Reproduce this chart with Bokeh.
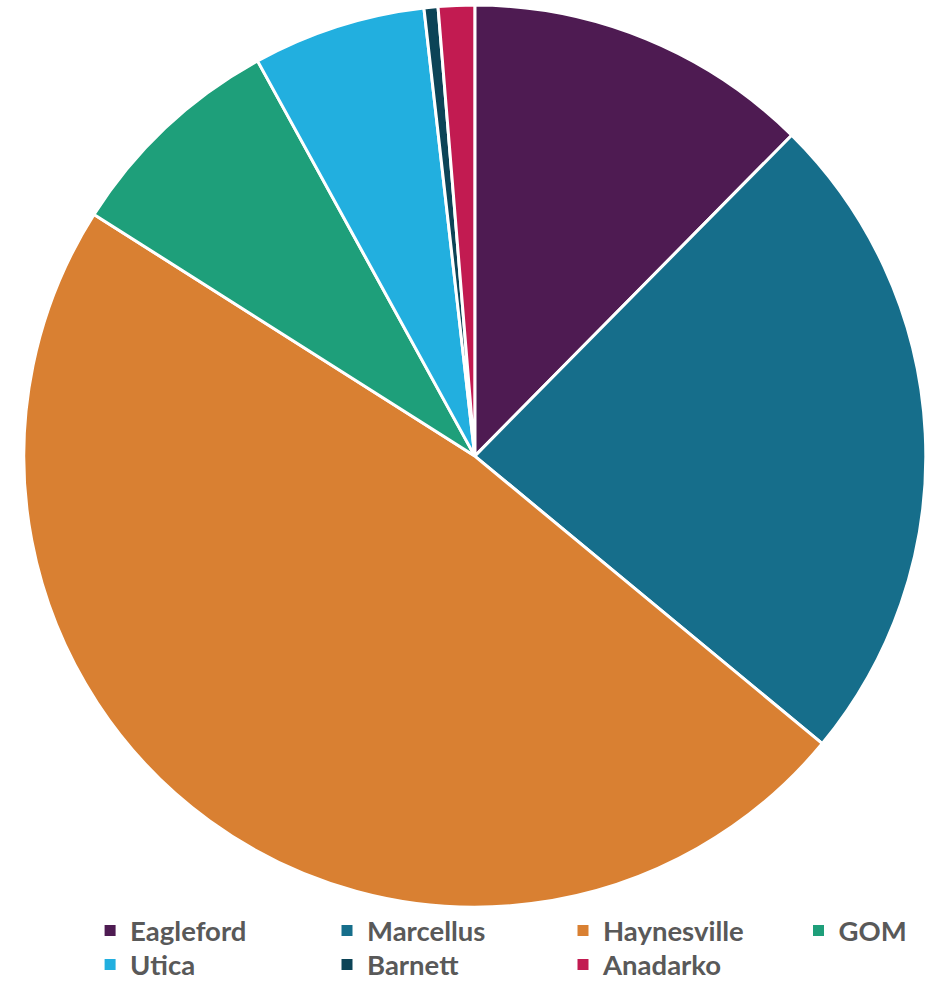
import numpy as np
from bokeh.plotting import figure
from bokeh.models import Range1d, ColumnDataSource
from bokeh.core.properties import value
from bokeh.embed import file_html
from bokeh.resources import INLINE

# ---- data ----
categories = ["Eagleford", "Marcellus", "Haynesville", "GOM", "Utica", "Barnett", "Anadarko"]
shares = [12.4, 23.6, 48.0, 8.0, 6.2, 0.5, 1.3]
colors = ["#4E1B52", "#166E8B", "#D98032", "#1E9F7A", "#22AFDF", "#0C4457", "#C21B51"]

# ---- layout ----
W, H = 931, 982
CX, CY, R = 474.3, 455.6, 451.0          # pie centre / radius in figure pixels (y down)
LEG_COL_X = [109.6, 346.5, 582.5, 818.0]  # marker centres
LEG_TEXT_DX = 20
LEG_ROW_Y = [930.0, 964.0]

p = figure(width=W, height=H, output_backend="svg", toolbar_location=None,
           x_range=Range1d(0, W), y_range=Range1d(0, H), min_border=0)
p.axis.visible = False
p.grid.visible = False
p.outline_line_color = None
p.background_fill_color = "white"
p.border_fill_color = "white"

vals = np.array(shares, dtype=float)
frac = vals / vals.sum()
cum = np.concatenate([[0.0], np.cumsum(frac)])
start = np.pi / 2 - cum[:-1] * 2 * np.pi
end = np.pi / 2 - cum[1:] * 2 * np.pi

src = ColumnDataSource(dict(cat=categories, start=start, end=end, color=colors))
p.wedge(x=CX, y=H - CY, radius=R, start_angle="start", end_angle="end",
        direction="clock", fill_color="color", line_color="white", line_width=3,
        source=src)

# legend (manual, 4 columns)
n = len(categories)
lx = [LEG_COL_X[i % 4] for i in range(n)]
ly = [H - LEG_ROW_Y[i // 4] for i in range(n)]
tx = [x + LEG_TEXT_DX for x in lx]
leg = ColumnDataSource(dict(x=lx, y=ly, tx=tx, label=categories, color=colors))
p.scatter(x="x", y="y", marker="square", size=11, fill_color="color", line_color=None, source=leg)
p.text(x="tx", y="y", text="label", source=leg, text_font=value("Lato"),
       text_font_style="bold", text_font_size="27.5px", text_color="#595959",
       text_baseline="middle", text_align="left")

open("out.html", "w").write(file_html(p, INLINE))
